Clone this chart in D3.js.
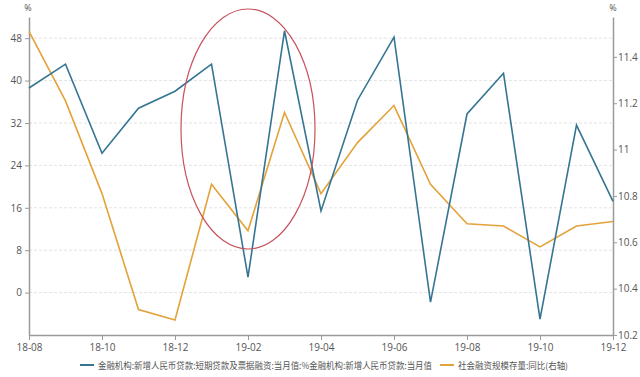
<!DOCTYPE html>
<html>
<head>
<meta charset="utf-8">
<script src="https://cdn.jsdelivr.net/npm/d3@7"></script>
<style>
  body { margin: 0; background: #fff; }
  #chart { width: 640px; height: 377px; }
  .tick text { font-family: "Open Sans", "Noto Sans CJK SC", sans-serif; font-size: 10px; fill: #555; }
  .legend text { font-family: "Noto Sans CJK SC", sans-serif; font-size: 9px; fill: #555; }
</style>
</head>
<body>
<div id="chart"></div>
<script>
const months = ["18-08","18-09","18-10","18-11","18-12","19-01","19-02","19-03","19-04",
  "19-05","19-06","19-07","19-08","19-09","19-10","19-11","19-12"];
// 短期贷款及票据融资占新增人民币贷款比例 (left axis, %)
const shortLoanShare = [38.6, 43.1, 26.3, 34.8, 38.0, 43.1, 2.9, 49.4, 15.4,
  36.3, 48.2, -1.8, 33.7, 41.4, -5.0, 31.6, 17.2];
// 社会融资规模存量同比 (right axis, %)
const tsfGrowth = [11.51, 11.21, 10.81, 10.31, 10.265, 10.85, 10.65, 11.16, 10.81,
  11.03, 11.19, 10.85, 10.68, 10.67, 10.58, 10.67, 10.69];
const leftTicks = [0, 8, 16, 24, 32, 40, 48];
const rightTicks = [10.2, 10.4, 10.6, 10.8, 11, 11.2, 11.4];
const xTicks = ["18-08","18-10","18-12","19-02","19-04","19-06","19-08","19-10","19-12"];
const seriesNames = ["金融机构:新增人民币贷款:短期贷款及票据融资:当月值:%金融机构:新增人民币贷款:当月值",
  "社会融资规模存量:同比(右轴)"];

const margin = {top: 17, right: 27, bottom: 42, left: 29};
const width = 640 - margin.left - margin.right;
const height = 377 - margin.top - margin.bottom;

const svg = d3.select("#chart").append("svg")
    .attr("width", 640)
    .attr("height", 377);
const g = svg.append("g")
    .attr("transform", "translate(" + margin.left + "," + margin.top + ")");

const x = d3.scalePoint().domain(months).range([0, width]);
const yL = d3.scaleLinear().domain([-8, 52]).range([height, 0]);
const yR = d3.scaleLinear().domain([10.2, 11.572]).range([height, 0]);

// gridlines
g.selectAll(".grid").data(leftTicks).enter().append("line")
    .attr("x1", 0).attr("x2", width)
    .attr("y1", d => yL(d)).attr("y2", d => yL(d))
    .attr("stroke", "#e3e3e3").attr("stroke-dasharray", "3,2");

// axes
const axisColor = "#9a9a9a";
function styleAxis(sel) {
  sel.select(".domain").attr("stroke", axisColor).attr("stroke-width", 1.5);
  sel.selectAll(".tick line").attr("stroke", axisColor);
}
g.append("g")
    .call(d3.axisLeft(yL).tickValues(leftTicks).tickSize(4).tickSizeOuter(0).tickPadding(3))
    .call(styleAxis);
g.append("g")
    .attr("transform", "translate(" + width + ",0)")
    .call(d3.axisRight(yR).tickValues(rightTicks).tickSize(4).tickSizeOuter(0).tickPadding(1)
      .tickFormat(d => d === 11 ? "11" : d3.format(".1f")(d)))
    .call(styleAxis);
g.append("g")
    .attr("transform", "translate(0," + height + ")")
    .call(d3.axisBottom(x).tickValues(xTicks).tickSize(5).tickSizeOuter(0).tickPadding(4))
    .call(styleAxis);

svg.append("text").attr("x", 28).attr("y", 11).attr("text-anchor", "middle")
    .style("font-size", "9px").style("fill", "#555").style("font-family", "Open Sans").text("%");
svg.append("text").attr("x", 613).attr("y", 11).attr("text-anchor", "middle")
    .style("font-size", "9px").style("fill", "#555").style("font-family", "Open Sans").text("%");

// lines
const blue = "#367592", orange = "#e3a23a";
g.append("path")
    .datum(tsfGrowth)
    .attr("fill", "none").attr("stroke", orange).attr("stroke-width", 1.6)
    .attr("d", d3.line().x((d, i) => x(months[i])).y(d => yR(d)));
g.append("path")
    .datum(shortLoanShare)
    .attr("fill", "none").attr("stroke", blue).attr("stroke-width", 1.6)
    .attr("d", d3.line().x((d, i) => x(months[i])).y(d => yL(d)));

// annotation ellipse
svg.append("ellipse")
    .attr("cx", 248).attr("cy", 129).attr("rx", 67).attr("ry", 120)
    .attr("fill", "none").attr("stroke", "#c8525c").attr("stroke-width", 1.2);

// legend
const legend = svg.append("g").attr("class", "legend");
const legendItems = [
  {name: seriesNames[0], color: blue, x: 80, w: 334},
  {name: seriesNames[1], color: orange, x: 440, w: 110}
];
legendItems.forEach(it => {
  legend.append("line").attr("x1", it.x).attr("x2", it.x + 14).attr("y1", 365).attr("y2", 365)
    .attr("stroke", it.color).attr("stroke-width", 2);
  legend.append("text").attr("x", it.x + 18).attr("y", 368.5)
    .attr("textLength", it.w).attr("lengthAdjust", "spacingAndGlyphs").text(it.name);
});
</script>
</body>
</html>
